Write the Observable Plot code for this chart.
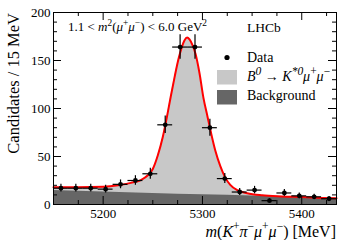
<!DOCTYPE html>
<html>
<head>
<meta charset="utf-8">
<script src="https://cdn.jsdelivr.net/npm/d3@7"></script>
<script src="https://cdn.jsdelivr.net/npm/@observablehq/plot@0.6"></script>
<style>
  html, body { margin: 0; padding: 0; background: #fff; }
  #chart svg { display: block; }
</style>
</head>
<body>
<div id="chart"></div>
<script>
// ---- data ----
const binMass = [5157.5, 5172.5, 5187.5, 5202.5, 5217.5, 5232.5, 5247.5, 5262.5, 5277.5, 5292.5,
                 5307.5, 5322.5, 5337.5, 5352.5, 5367.5, 5382.5, 5397.5, 5412.5, 5427.5];
const binCount = [17, 17, 17, 16, 21, 25, 32, 83, 164, 164, 80, 27, 13, 15, 4, 12, 9, 8, 6];
const binError = [4.1, 4.1, 4.1, 4.0, 4.6, 5.0, 5.7, 9.1, 12.8, 12.8, 8.9, 5.2, 3.6, 3.9, 2.0, 3.5, 3.0, 2.8, 2.4];
const binWidth = 15;

// total fit curve (signal + background)
const fitMass = [5150, 5175, 5200, 5215, 5228, 5238, 5245, 5250, 5255, 5260, 5264, 5268, 5272, 5276, 5279,
                 5282, 5284.5, 5287, 5290, 5293, 5297, 5301, 5305, 5309, 5313, 5318, 5323, 5328, 5335,
                 5345, 5360, 5380, 5400, 5420, 5435];
const fitTotal = [18, 18, 18.5, 20, 22.5, 25.5, 30.5, 37, 51, 70, 90, 112, 133, 152, 163,
                  171, 174, 172, 166, 157, 137, 111, 92, 73, 56, 40, 28, 20.5, 15,
                  11.8, 9.6, 8.4, 7.7, 6.9, 6.5];
// background component
const bkgMass = [5150, 5200, 5250, 5300, 5350, 5400, 5435];
const bkgValue = [14.5, 13, 11.5, 10.2, 8.9, 7.5, 6.2];

// axis ticks
const xMajor = [5200, 5300, 5400];
const xMinor = [5150, 5175, 5225, 5250, 5275, 5325, 5350, 5375, 5425];
const yMajor = [0, 50, 100, 150, 200];
const yMinor = [10, 20, 30, 40, 60, 70, 80, 90, 110, 120, 130, 140, 160, 170, 180, 190];

// ---- layout ----
const W = 354, H = 240;
const mL = 53, mR = 18, mT = 12, mB = 36;
const pw = W - mL - mR, ph = H - mT - mB;
const FONT = "'Liberation Serif', 'Times New Roman', serif";

const data = binMass.map((m, i) => ({m, n: binCount[i], e: binError[i]}));
const fit = fitMass.map((m, i) => ({m, v: fitTotal[i]}));
const bkg = bkgMass.map((m, i) => ({m, v: bkgValue[i]}));

const plot = Plot.plot({
  width: W, height: H,
  marginLeft: mL, marginRight: mR, marginTop: mT, marginBottom: mB,
  style: {fontFamily: FONT, background: "#fff", color: "black"},
  x: {domain: [5150, 5435]},
  y: {domain: [0, 200]},
  marks: [
    Plot.areaY(fit, {x: "m", y: "v", fill: "#c8c8c8", curve: "monotone-x"}),
    Plot.areaY(bkg, {x: "m", y: "v", fill: "#666666", curve: "monotone-x"}),
    Plot.line(fit, {x: "m", y: "v", stroke: "#ff0000", strokeWidth: 2, curve: "monotone-x"}),
    Plot.ruleX(data, {x: "m", y1: d => d.n - d.e, y2: d => d.n + d.e, stroke: "black", strokeWidth: 1.2}),
    Plot.ruleY(data, {y: "n", x1: d => d.m - binWidth / 2, x2: d => d.m + binWidth / 2, stroke: "black", strokeWidth: 1.2}),
    Plot.dot(data, {x: "m", y: "n", r: 2.4, fill: "black", stroke: "none"}),
    // inward ticks on all four sides
    Plot.tickX(xMajor, {x: d => d, insetTop: ph - 8, stroke: "black"}),
    Plot.tickX(xMajor, {x: d => d, insetBottom: ph - 8, stroke: "black"}),
    Plot.tickX(xMinor, {x: d => d, insetTop: ph - 4, stroke: "black"}),
    Plot.tickX(xMinor, {x: d => d, insetBottom: ph - 4, stroke: "black"}),
    Plot.tickY(yMajor, {y: d => d, insetRight: pw - 8, stroke: "black"}),
    Plot.tickY(yMajor, {y: d => d, insetLeft: pw - 8, stroke: "black"}),
    Plot.tickY(yMinor, {y: d => d, insetRight: pw - 4, stroke: "black"}),
    Plot.tickY(yMinor, {y: d => d, insetLeft: pw - 4, stroke: "black"}),
    Plot.frame({stroke: "black", strokeWidth: 1}),
    Plot.axisX(xMajor, {tickSize: 0, tickPadding: 4, fontSize: 13, label: null, tickFormat: d => String(d)}),
    Plot.axisY(yMajor, {tickSize: 0, tickPadding: 3, fontSize: 13, label: null})
  ]
});
document.getElementById("chart").appendChild(plot);

// ---- rich text helpers (titles, annotations, legend) ----
const svg = d3.select(plot);
function rich(x, y, size, parts, anchor = "start", rotate = false, supScale = 0.72) {
  const t = svg.append("text")
    .attr("x", x).attr("y", y)
    .attr("font-family", FONT).attr("font-size", size)
    .attr("fill", "black").attr("text-anchor", anchor);
  if (rotate) t.attr("transform", `rotate(-90 ${x} ${y})`);
  let shift = 0;
  for (const p of parts) {
    const s = t.append("tspan").text(p.t);
    if (p.i) s.attr("font-style", "italic");
    const want = p.sup ? -0.42 * size : 0;
    if (want !== shift) { s.attr("dy", want - shift); shift = want; }
    if (p.sup) s.attr("font-size", size * supScale);
  }
  return t;
}

// y-axis title
rich(19, mT + 1, 16.5, [{t: "Candidates / 15 MeV"}], "end", true);
// x-axis title
rich(W - mR, 236.5, 16, [
  {t: "m", i: true}, {t: "("}, {t: "K", i: true}, {t: "+", sup: true},
  {t: "π", i: true}, {t: "−", sup: true}, {t: "μ", i: true}, {t: "+", sup: true},
  {t: "μ", i: true}, {t: "−", sup: true}, {t: ") [MeV]"}
], "end");
// q2 range annotation
rich(68, 31, 13, [
  {t: "1.1 < "}, {t: "m", i: true}, {t: "2", sup: true}, {t: "("}, {t: "μ", i: true}, {t: "+", sup: true},
  {t: "μ", i: true}, {t: "−", sup: true}, {t: ") < 6.0 GeV"}, {t: "2", sup: true}
]);
// LHCb label
rich(247, 32, 13.5, [{t: "LHCb"}]);

// legend
svg.append("circle").attr("cx", 227).attr("cy", 57.5).attr("r", 2.6).attr("fill", "black");
svg.append("rect").attr("x", 217).attr("y", 70).attr("width", 20).attr("height", 14.5).attr("fill", "#c8c8c8");
svg.append("rect").attr("x", 217).attr("y", 90).attr("width", 20).attr("height", 14.5).attr("fill", "#666666");
rich(247, 62, 14, [{t: "Data"}]);
rich(247, 81, 14, [
  {t: "B", i: true}, {t: "0", sup: true, i: true}, {t: " → "}, {t: "K", i: true}, {t: "*0", sup: true, i: true},
  {t: "μ", i: true}, {t: "+", sup: true}, {t: "μ", i: true}, {t: "−", sup: true}
], "start", false, 0.82);
rich(247, 99.5, 14, [{t: "Background"}]);
</script>
</body>
</html>
